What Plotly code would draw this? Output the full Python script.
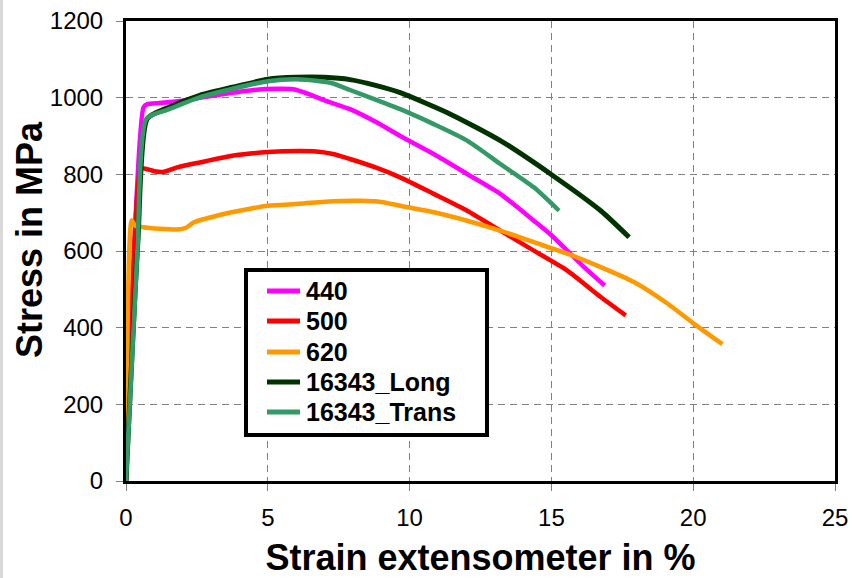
import plotly.graph_objects as go

# Tensile test curves: strain (%) vs. stress (MPa)
strain_440 = [0, 0.62, 0.75, 1.2, 2.0, 2.6, 3.5, 4.5, 5.3, 5.9, 6.5, 7.0, 7.9, 8.8,
              9.67, 10.85, 12.03, 13.2, 14.38, 14.97, 15.56, 16.15, 16.88]
stress_440 = [0, 975, 983, 986, 992, 1000, 1010, 1020, 1023, 1022, 1008, 993, 970, 937,
              900, 853, 801, 749, 679, 643, 601, 558, 510]

strain_500 = [0, 0.5, 0.6, 1.0, 1.3, 1.8, 2.6, 3.8, 5.0, 6.1, 6.6, 7.3, 7.9, 8.8,
              9.67, 10.85, 12.03, 13.2, 14.38, 15.56, 16.74, 17.62]
stress_500 = [0, 812, 816, 808, 806, 818, 831, 849, 858, 861, 860, 853, 840, 818,
              792, 749, 705, 653, 601, 549, 480, 432]

strain_620 = [0, 0.2, 0.32, 0.6, 1.2, 1.8, 2.1, 2.4, 3.2, 4.0, 5.0, 6.1, 7.3, 8.3, 9.0,
              9.67, 10.85, 12.03, 13.2, 14.38, 15.56, 16.74, 17.91, 19.09, 20.03, 21.03]
stress_620 = [0, 680, 666, 662, 658, 656, 660, 675, 692, 705, 718, 723, 730, 731, 728,
              718, 701, 679, 653, 623, 593, 558, 519, 463, 410, 357]

strain_long = [0, 0.42, 0.75, 1.45, 2.6, 3.8, 5.0, 6.0, 7.0, 7.9, 8.8, 9.67,
               11.44, 13.2, 14.97, 16.74, 17.74]
stress_long = [0, 627, 945, 973, 1006, 1028, 1048, 1053, 1053, 1047, 1032, 1013,
               957, 888, 801, 705, 636]

strain_trans = [0, 0.4, 0.72, 1.45, 2.6, 3.8, 5.0, 6.0, 6.7, 7.3, 7.9, 8.8, 9.67,
                10.85, 12.03, 13.2, 14.38, 15.27]
stress_trans = [0, 600, 945, 968, 1001, 1024, 1043, 1048, 1044, 1037, 1020, 995, 970,
                931, 888, 827, 766, 705]

series = [
    ("440", strain_440, stress_440, "#ff00ff", 4.5),
    ("500", strain_500, stress_500, "#ff0000", 4.5),
    ("620", strain_620, stress_620, "#ff9900", 4.5),
    ("16343_Long", strain_long, stress_long, "#003300", 5),
    ("16343_Trans", strain_trans, stress_trans, "#339966", 4.5),
]

x_ticks = [0, 5, 10, 15, 20, 25]
y_ticks = [0, 200, 400, 600, 800, 1000, 1200]

FONT = "Liberation Sans, Arial, sans-serif"
W, H = 852, 578
ML, MR, MT, MB = 126, 17, 21, 97
PW, PH = W - ML - MR, H - MT - MB


def px_x(px):
    """page pixel column -> paper x"""
    return (px - ML) / PW


def px_y(py):
    """page pixel row -> paper y"""
    return (H - MB - py) / PH


fig = go.Figure()
for name, xs, ys, color, width in series:
    fig.add_trace(go.Scatter(
        x=xs, y=ys, name=name, mode="lines", showlegend=False,
        line=dict(color=color, width=width, shape="spline", smoothing=0.6),
    ))

axis_common = dict(
    showline=True, linecolor="black", linewidth=3, mirror=True,
    showgrid=True, gridcolor="#808080", gridwidth=1, griddash="7px,5px",
    zeroline=False, ticks="outside", ticklen=7, tickcolor="#808080", tickwidth=1,
    tickfont=dict(family=FONT, size=24, color="black"),
    automargin=False,
)

fig.update_xaxes(
    range=[0, 25], tickvals=x_ticks, ticklabelstandoff=6,
    title=dict(text="Strain extensometer in %", standoff=17,
               font=dict(family=FONT, size=36, color="black", weight="bold")),
    **axis_common,
)
fig.update_yaxes(range=[0, 1200], tickvals=y_ticks, ticklabelstandoff=8, **axis_common)

shapes = []
annotations = []

# y-axis title
annotations.append(dict(
    text="Stress in MPa", xref="paper", yref="paper", x=px_x(29), y=px_y(240),
    xanchor="center", yanchor="middle", textangle=-90, showarrow=False,
    font=dict(family=FONT, size=36, color="black", weight="bold"),
))

# thin grey strip along the left page edge
shapes.append(dict(type="rect", xref="paper", yref="paper",
                   x0=px_x(0), x1=px_x(3), y0=px_y(H), y1=px_y(0),
                   fillcolor="#d9d9d9", line=dict(width=0), layer="below"))

# boxed legend
shapes.append(dict(type="rect", xref="paper", yref="paper",
                   x0=px_x(246), x1=px_x(487), y0=px_y(435), y1=px_y(270),
                   fillcolor="white", line=dict(color="black", width=4), layer="above"))
row_y = [291, 321, 352, 382, 412]
for (name, _, _, color, _), ry in zip(series, row_y):
    shapes.append(dict(type="line", xref="paper", yref="paper",
                       x0=px_x(267), x1=px_x(300), y0=px_y(ry), y1=px_y(ry),
                       line=dict(color=color, width=5), layer="above"))
    annotations.append(dict(
        text=name, xref="paper", yref="paper", x=px_x(304), y=px_y(ry),
        xanchor="left", yanchor="middle", showarrow=False,
        font=dict(family=FONT, size=25, color="black", weight="bold"),
    ))

fig.update_layout(
    width=W, height=H,
    margin=dict(l=ML, r=MR, t=MT, b=MB),
    paper_bgcolor="white", plot_bgcolor="white",
    font=dict(family=FONT, color="black"),
    shapes=shapes, annotations=annotations,
    showlegend=False,
)

fig.write_html("out.html")
